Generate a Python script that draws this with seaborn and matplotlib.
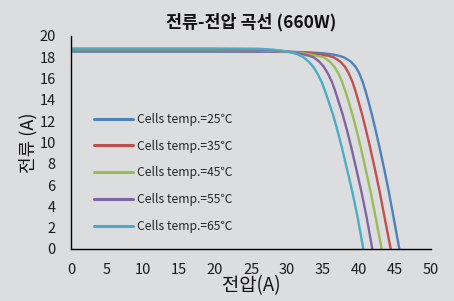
import matplotlib.pyplot as plt
import pandas as pd
import seaborn as sns

temps = [25, 35, 45, 55, 65]
colors = ["#4F81BD", "#C0504D", "#9BBB59", "#8064A2", "#4BACC6"]

# flat part and start of the knee, read per curve
top_voltage_25 = [0, 10, 20, 28, 31, 33, 35, 36, 37, 37.89]
top_current_25 = [18.53, 18.53, 18.53, 18.52, 18.5, 18.46, 18.38, 18.3, 18.18, 18.0]
top_voltage_35 = [0, 10, 20, 27, 30, 32, 33.5, 34.8, 35.8, 36.49]
top_current_35 = [18.6, 18.6, 18.6, 18.58, 18.53, 18.46, 18.38, 18.25, 18.13, 18.0]
top_voltage_45 = [0, 10, 20, 26, 28.5, 30.5, 32, 33.3, 34.3, 35.1]
top_current_45 = [18.68, 18.68, 18.68, 18.66, 18.6, 18.5, 18.4, 18.26, 18.12, 18.0]
top_voltage_55 = [0, 10, 20, 26, 28, 29.8, 31.2, 32.3, 33.1, 33.7]
top_current_55 = [18.75, 18.75, 18.75, 18.72, 18.66, 18.55, 18.42, 18.27, 18.13, 18.0]
top_voltage_65 = [0, 10, 20, 26, 28, 29.5, 30.4, 31.4, 32.3]
top_current_65 = [18.83, 18.83, 18.83, 18.8, 18.72, 18.6, 18.48, 18.3, 18.0]

# falling part: voltage of each curve at these current levels
knee_current = [17.6, 17.1, 16.5, 15.7, 14.8, 13.8, 12.6, 11.2, 9.5, 7.5, 5.3, 3.0, 0.0]
knee_voltage_25 = [38.86, 39.53, 40.03, 40.5, 40.92, 41.33, 41.79, 42.29, 42.86, 43.5, 44.16, 44.79, 45.6]
knee_voltage_35 = [37.4, 38.06, 38.57, 39.08, 39.52, 39.95, 40.44, 40.96, 41.55, 42.21, 42.89, 43.54, 44.4]
knee_voltage_45 = [35.93, 36.59, 37.12, 37.65, 38.11, 38.57, 39.09, 39.64, 40.25, 40.92, 41.63, 42.3, 43.15]
knee_voltage_55 = [34.47, 35.12, 35.66, 36.23, 36.71, 37.18, 37.74, 38.31, 38.94, 39.62, 40.36, 41.05, 41.85]
knee_voltage_65 = [33.0, 33.65, 34.2, 34.8, 35.3, 35.8, 36.39, 36.98, 37.63, 38.33, 39.09, 39.8, 40.6]

top_voltages = [top_voltage_25, top_voltage_35, top_voltage_45, top_voltage_55, top_voltage_65]
top_currents = [top_current_25, top_current_35, top_current_45, top_current_55, top_current_65]
knee_voltages = [knee_voltage_25, knee_voltage_35, knee_voltage_45, knee_voltage_55, knee_voltage_65]
labels = [f"Cells temp.={t}\u2103" for t in temps]

frames = []
for label, tv, ti, kv in zip(labels, top_voltages, top_currents, knee_voltages):
    frames.append(pd.DataFrame({"voltage": tv + kv, "current": ti + knee_current, "curve": label}))
df = pd.concat(frames, ignore_index=True)

bg = "#DCDDDF"
sns.set_style("white", rc={"axes.facecolor": bg, "figure.facecolor": bg})
plt.rcParams["font.family"] = ["Noto Sans CJK KR", "DejaVu Sans"]

fig = plt.figure(figsize=(4.54, 3.01), dpi=100)
ax = fig.add_axes([0.1564, 0.1728, 0.793, 0.7076])

sns.lineplot(
    data=df,
    x="voltage",
    y="current",
    hue="curve",
    palette=colors,
    estimator=None,
    sort=False,
    linewidth=1.7,
    ax=ax,
)

ax.set_xlim(0, 50)
ax.set_ylim(0, 20)
ax.set_xticks(range(0, 51, 5))
ax.set_yticks(range(0, 21, 2))
ax.tick_params(axis="x", length=4, width=1, color="black", pad=6, labelsize=10.5, labelcolor="#1a1a1a")
ax.tick_params(axis="y", length=0, pad=11, labelsize=10.5, labelcolor="#1a1a1a")

for side in ["top", "right"]:
    ax.spines[side].set_visible(False)
for side in ["left", "bottom"]:
    ax.spines[side].set_color("black")
    ax.spines[side].set_linewidth(1.0)

ax.set_title("전류-전압 곡선 (660W)", fontsize=12.5, fontweight="bold", pad=6, color="#111111")
ax.set_xlabel("전압(A)", fontsize=13.5, labelpad=-1, color="#111111")
ax.set_ylabel("전류 (A)", fontsize=13, labelpad=1, color="#111111")

leg = ax.legend(
    loc="upper left",
    bbox_to_anchor=(0.035, 0.69),
    frameon=False,
    fontsize=8.7,
    handlelength=3.2,
    handletextpad=0.3,
    labelspacing=1.14,
)
for line in leg.get_lines():
    line.set_linewidth(2.2)

fig.savefig("out.png", dpi=100, facecolor=bg)
